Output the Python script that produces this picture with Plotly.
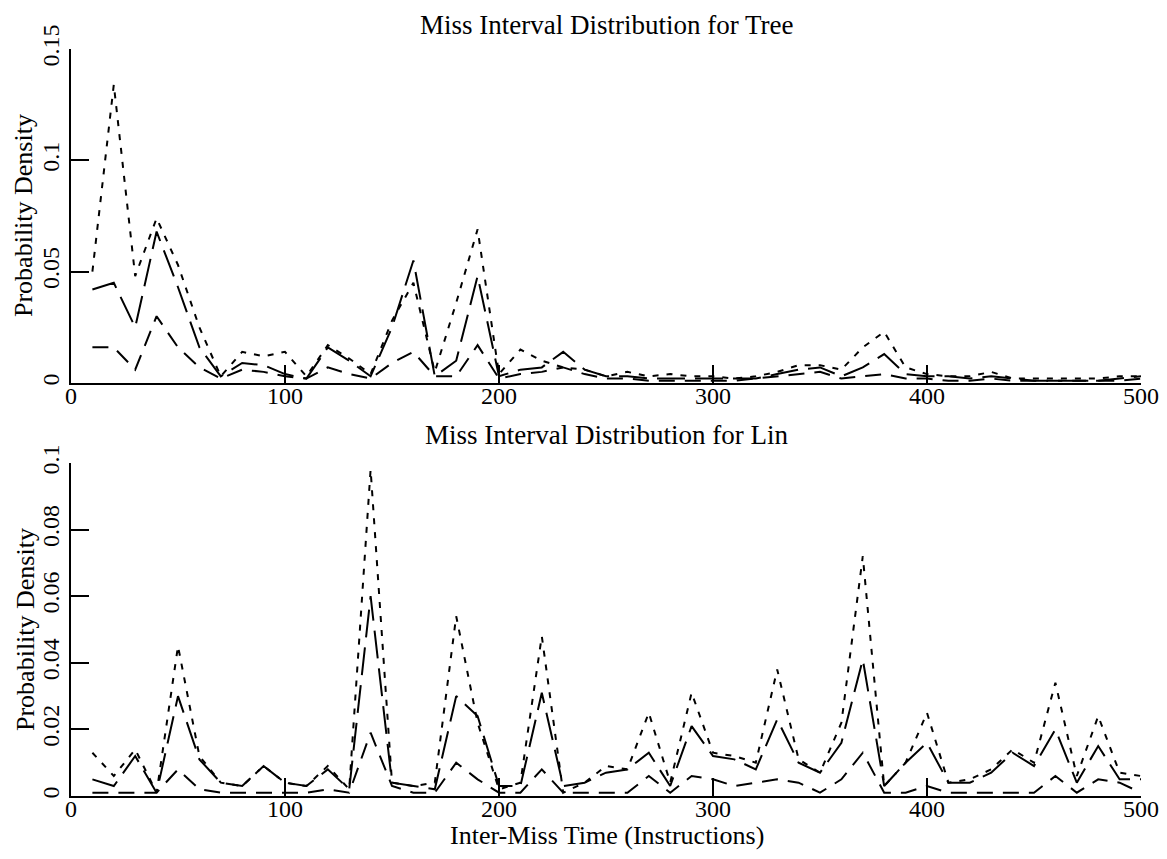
import plotly.graph_objects as go

x_vals = list(range(10, 510, 10))

tree_dotted = [0.050, 0.134, 0.048, 0.074, 0.053, 0.025, 0.003, 0.014, 0.012, 0.014,
               0.003, 0.017, 0.011, 0.004, 0.028, 0.045, 0.005, 0.036, 0.069, 0.004,
               0.015, 0.010, 0.007, 0.006, 0.003, 0.005, 0.003, 0.004, 0.003, 0.003,
               0.002, 0.003, 0.005, 0.008, 0.008, 0.006, 0.016, 0.023, 0.007, 0.004,
               0.003, 0.003, 0.005, 0.002, 0.002, 0.002, 0.002, 0.002, 0.003, 0.003]
tree_longdash = [0.042, 0.045, 0.025, 0.068, 0.043, 0.016, 0.003, 0.009, 0.008, 0.004,
                 0.002, 0.016, 0.010, 0.003, 0.025, 0.055, 0.003, 0.010, 0.048, 0.003,
                 0.006, 0.007, 0.014, 0.006, 0.003, 0.003, 0.002, 0.002, 0.002, 0.002,
                 0.002, 0.002, 0.004, 0.006, 0.007, 0.003, 0.007, 0.013, 0.004, 0.003,
                 0.003, 0.002, 0.003, 0.002, 0.001, 0.001, 0.001, 0.001, 0.002, 0.003]
tree_dash = [0.016, 0.016, 0.006, 0.030, 0.016, 0.007, 0.002, 0.006, 0.005, 0.003,
             0.002, 0.007, 0.004, 0.002, 0.009, 0.014, 0.003, 0.003, 0.017, 0.002,
             0.004, 0.005, 0.007, 0.004, 0.002, 0.002, 0.001, 0.001, 0.001, 0.001,
             0.001, 0.002, 0.003, 0.004, 0.005, 0.002, 0.003, 0.004, 0.002, 0.002,
             0.001, 0.001, 0.002, 0.001, 0.001, 0.001, 0.001, 0.001, 0.001, 0.002]

lin_dotted = [0.013, 0.006, 0.014, 0.001, 0.045, 0.012, 0.004, 0.003, 0.009, 0.004,
              0.003, 0.009, 0.002, 0.098, 0.004, 0.003, 0.004, 0.054, 0.022, 0.002,
              0.004, 0.048, 0.001, 0.004, 0.009, 0.008, 0.025, 0.004, 0.031, 0.013,
              0.012, 0.010, 0.038, 0.011, 0.007, 0.022, 0.072, 0.003, 0.010, 0.025,
              0.004, 0.005, 0.008, 0.014, 0.010, 0.034, 0.006, 0.024, 0.007, 0.006]
lin_longdash = [0.005, 0.003, 0.012, 0.001, 0.030, 0.011, 0.004, 0.003, 0.009, 0.004,
                0.003, 0.008, 0.002, 0.060, 0.004, 0.003, 0.002, 0.030, 0.024, 0.003,
                0.003, 0.031, 0.003, 0.004, 0.007, 0.008, 0.013, 0.003, 0.021, 0.012,
                0.011, 0.008, 0.023, 0.010, 0.007, 0.016, 0.041, 0.003, 0.010, 0.016,
                0.004, 0.004, 0.007, 0.013, 0.009, 0.020, 0.004, 0.015, 0.005, 0.005]
lin_dash = [0.001, 0.001, 0.001, 0.001, 0.008, 0.002, 0.001, 0.001, 0.001, 0.001,
            0.001, 0.002, 0.001, 0.019, 0.003, 0.001, 0.001, 0.010, 0.005, 0.001,
            0.001, 0.008, 0.001, 0.001, 0.001, 0.001, 0.006, 0.001, 0.006, 0.005,
            0.003, 0.004, 0.005, 0.004, 0.001, 0.005, 0.013, 0.001, 0.001, 0.003,
            0.001, 0.001, 0.001, 0.001, 0.001, 0.006, 0.001, 0.005, 0.004, 0.001]

x_ticks = [0, 100, 200, 300, 400, 500]
tree_yticks = [0, 0.05, 0.1, 0.15]
tree_ytext = ["0", "0.05", "0.1", "0.15"]
lin_yticks = [0, 0.02, 0.04, 0.06, 0.08, 0.1]
lin_ytext = ["0", "0.02", "0.04", "0.06", "0.08", "0.1"]

title_top = "Miss Interval Distribution for Tree"
title_bottom = "Miss Interval Distribution for Lin"
x_title = "Inter-Miss Time (Instructions)"
y_title = "Probability Density"

FONT = "Liberation Serif, Times New Roman, serif"
DOT = "6px,8px"
LONG = "28px,10px"
MED = "16px,10px"

fig = go.Figure()
series = [
    (tree_dotted, DOT, "x", "y"), (tree_longdash, LONG, "x", "y"), (tree_dash, MED, "x", "y"),
    (lin_dotted, DOT, "x2", "y2"), (lin_longdash, LONG, "x2", "y2"), (lin_dash, MED, "x2", "y2"),
]
for ys, dash, xa, ya in series:
    fig.add_trace(go.Scatter(x=x_vals, y=ys, mode="lines", xaxis=xa, yaxis=ya,
                             line=dict(color="black", width=2, dash=dash),
                             showlegend=False, hoverinfo="skip"))

# page has an 8px body margin; work in page pixel coordinates and convert
OFF = 8
W, H = 1167 - 2 * OFF, 859 - 2 * OFF
left_px, right_px, top_px, bottom_px = 71, 1141, 49, 796   # plot area in page px
ml = left_px - OFF
mt = top_px - OFF
mr = W - (right_px - OFF)
mb = H - (bottom_px - OFF)
ph = H - mt - mb
pw = W - ml - mr

def py(px):
    return (bottom_px - px) / ph

def pxr(px):
    return (px - left_px) / pw

axis_common = dict(showgrid=False, zeroline=False, showline=True, linecolor="black",
                   linewidth=2, ticks="inside", ticklen=18, tickwidth=2, tickcolor="black",
                   tickfont=dict(family=FONT, size=24, color="black"))

fig.update_layout(
    width=W, height=H, margin=dict(l=ml, r=mr, t=mt, b=mb, autoexpand=False),
    paper_bgcolor="white", plot_bgcolor="white",
    xaxis=dict(domain=[0, 1], range=[0, 500], tickvals=x_ticks, anchor="y",
               ticklabelstandoff=-10, **axis_common),
    yaxis=dict(domain=[py(383), 1], range=[0, 0.15], tickvals=tree_yticks, ticktext=tree_ytext,
               tickangle=-90, anchor="x", **axis_common),
    xaxis2=dict(domain=[0, 1], range=[0, 500], tickvals=x_ticks, anchor="y2",
                ticklabelstandoff=-10, **axis_common),
    yaxis2=dict(domain=[0, py(463)], range=[0, 0.1], tickvals=lin_yticks, ticktext=lin_ytext,
                tickangle=-90, anchor="x2", **axis_common),
    font=dict(family=FONT, color="black"),
    annotations=[
        dict(text=title_top, x=0.5, y=py(25), xref="paper", yref="paper", showarrow=False,
             xanchor="center", yanchor="middle", font=dict(family=FONT, size=27, color="black")),
        dict(text=title_bottom, x=0.5, y=py(435), xref="paper", yref="paper", showarrow=False,
             xanchor="center", yanchor="middle", font=dict(family=FONT, size=27, color="black")),
        dict(text=x_title, x=pxr(607), y=py(835), xref="paper", yref="paper", showarrow=False,
             xanchor="center", yanchor="middle", font=dict(family=FONT, size=26, color="black")),
        dict(text=y_title, x=pxr(23), y=py(216), xref="paper", yref="paper", showarrow=False,
             textangle=-90, xanchor="center", yanchor="middle", font=dict(family=FONT, size=26, color="black")),
        dict(text=y_title, x=pxr(25), y=py(630), xref="paper", yref="paper", showarrow=False,
             textangle=-90, xanchor="center", yanchor="middle", font=dict(family=FONT, size=26, color="black")),
    ],
)

fig.write_html("out.html")
